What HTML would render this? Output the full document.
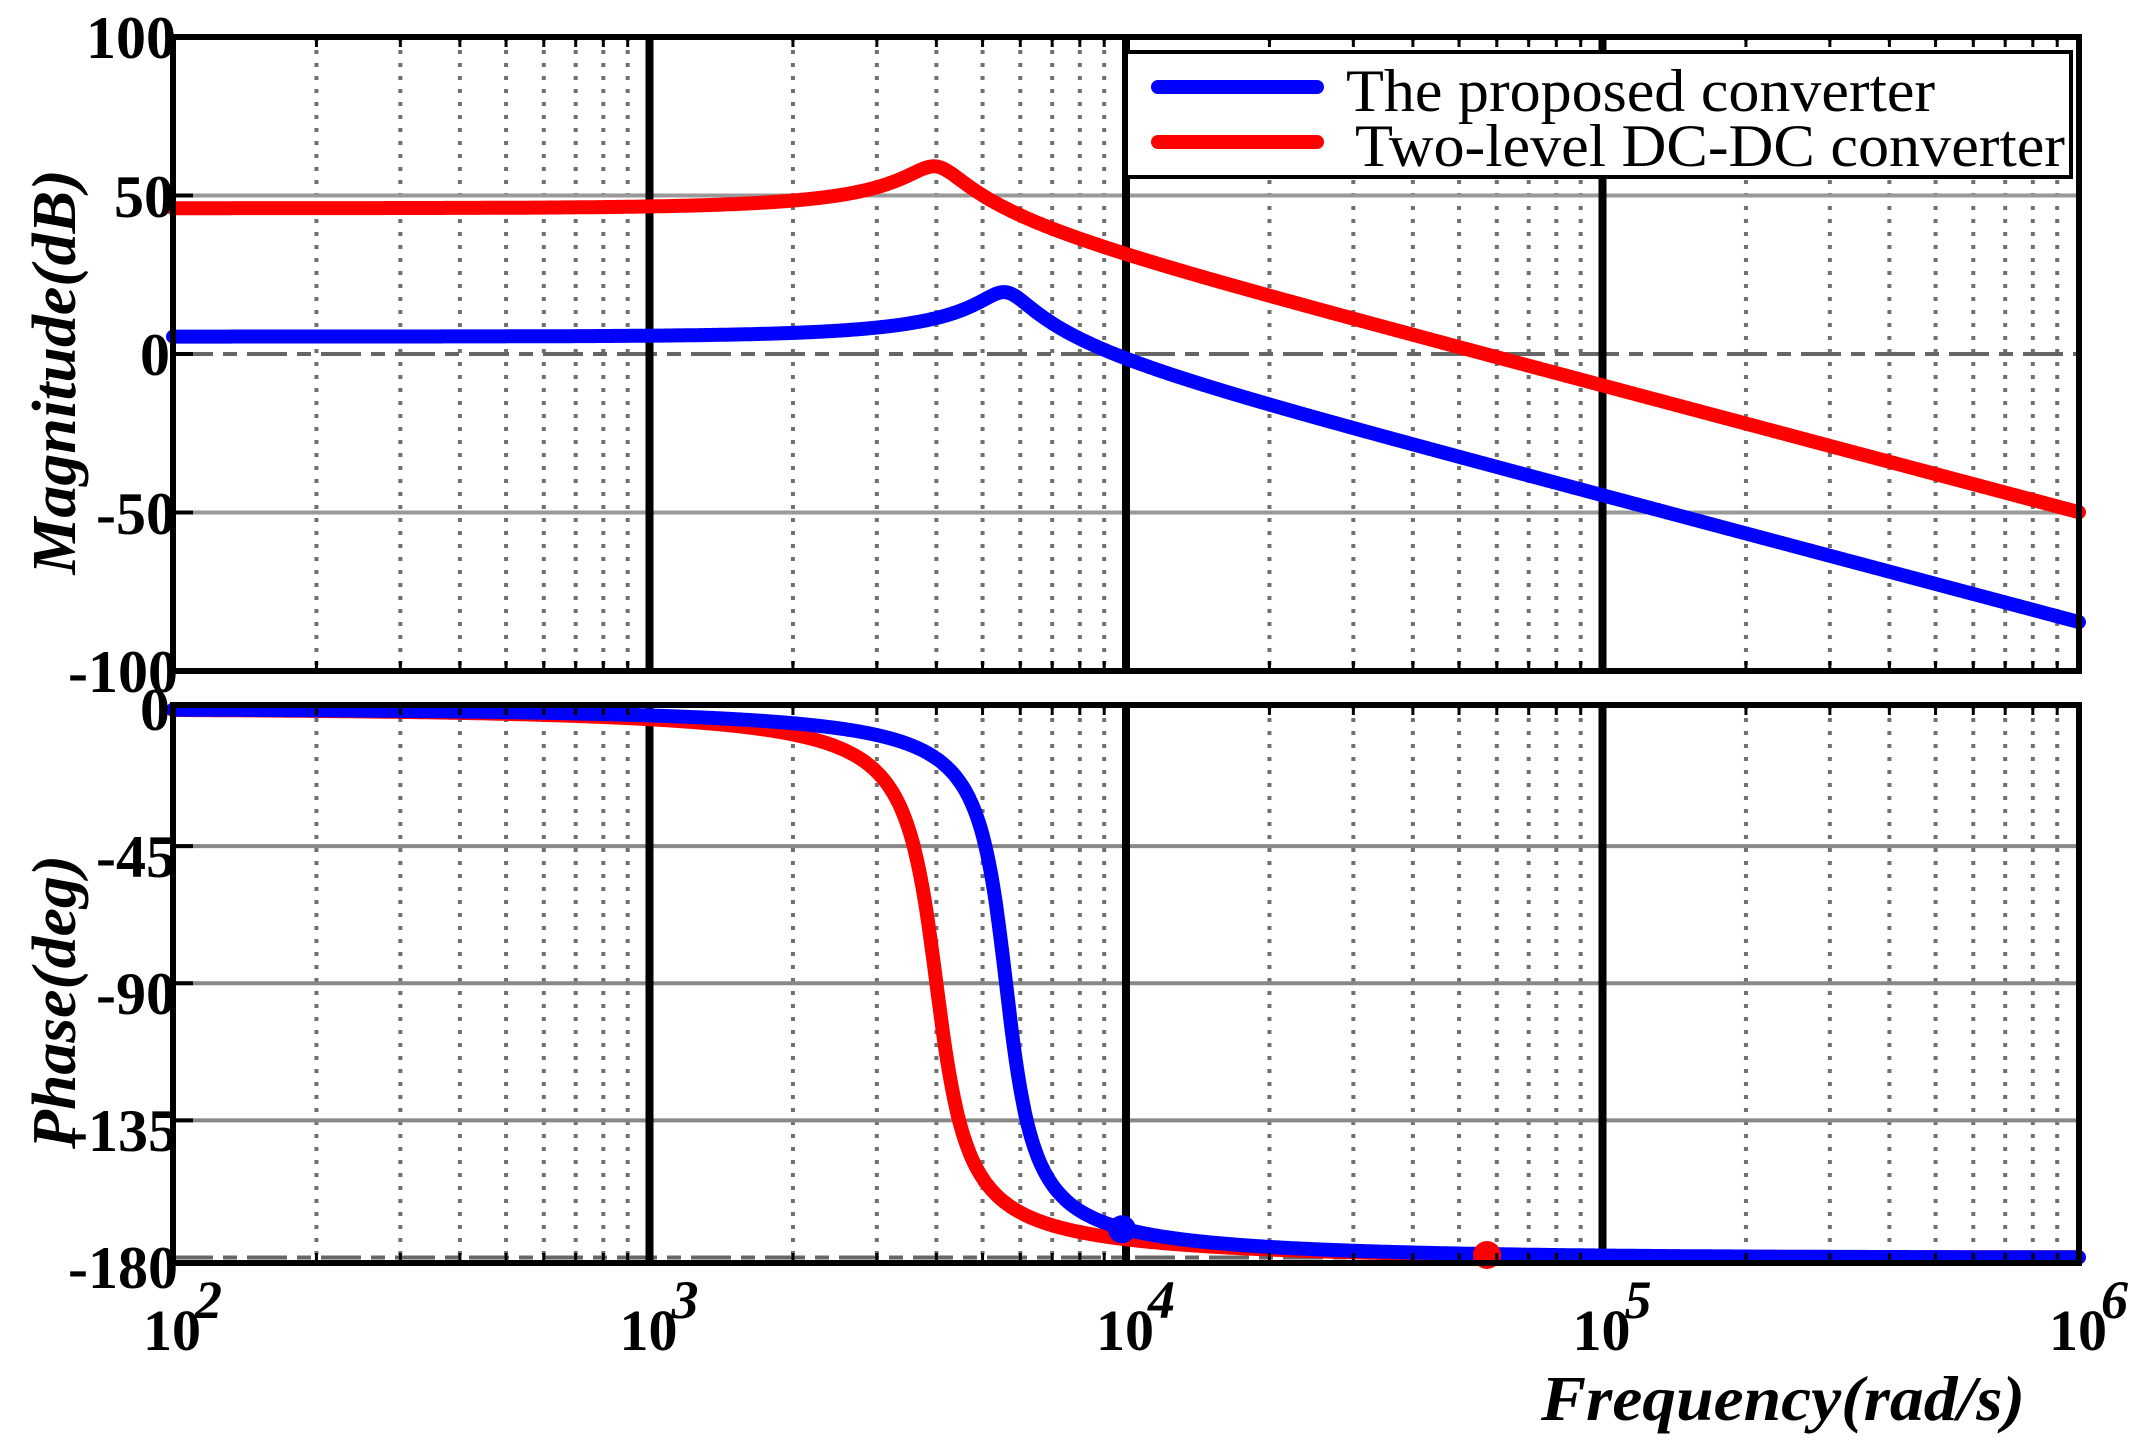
<!DOCTYPE html>
<html><head><meta charset="utf-8"><style>
html,body{margin:0;padding:0;background:#fff;}
svg{display:block;}
text{font-family:"Liberation Serif",serif;font-weight:bold;fill:#000;}
</style></head><body>
<svg id="s" width="2155" height="1449" viewBox="0 0 2155 1449" xmlns="http://www.w3.org/2000/svg">
<g id="grid"></g>
<g id="curves"></g>
<g id="frame"></g>
<rect x="1126" y="52" width="945" height="125" fill="#fff" stroke="#000" stroke-width="4"/>
<line x1="1158" y1="87" x2="1317" y2="87" stroke="#0000ff" stroke-width="14" stroke-linecap="round"/>
<line x1="1158" y1="142" x2="1317" y2="142" stroke="#ff0000" stroke-width="14" stroke-linecap="round"/>
<text x="1346" y="111" font-size="60" style="font-weight:normal" textLength="589" lengthAdjust="spacingAndGlyphs">The proposed converter</text>
<text x="1355" y="166" font-size="60" style="font-weight:normal" textLength="710" lengthAdjust="spacingAndGlyphs">Two-level DC-DC converter</text>
<g font-size="60" text-anchor="end">
<text x="176" y="58">100</text>
<text x="174" y="217">50</text>
<text x="170" y="375">0</text>
<text x="176" y="534">-50</text>
<text x="178" y="692">-100</text>
<text x="170" y="730">0</text>
<text x="176" y="877">-45</text>
<text x="176" y="1014">-90</text>
<text x="178" y="1151">-135</text>
<text x="178" y="1288">-180</text>
</g>
<g id="xl" font-size="58"></g>
<text transform="translate(75,372) rotate(-90)" font-size="62" font-style="italic" text-anchor="middle" textLength="405" lengthAdjust="spacingAndGlyphs">Magnitude(dB)</text>
<text transform="translate(75,1002) rotate(-90)" font-size="62" font-style="italic" text-anchor="middle" textLength="294" lengthAdjust="spacingAndGlyphs">Phase(deg)</text>
<text x="1541" y="1420" font-size="64" font-style="italic" textLength="484" lengthAdjust="spacingAndGlyphs">Frequency(rad/s)</text>
</svg>
<script>
var NS="http://www.w3.org/2000/svg";
function el(p,t,a){var e=document.createElementNS(NS,t);for(var k in a)e.setAttribute(k,a[k]);p.appendChild(e);return e;}
var L=173,D=476.5,R=L+4*D;
function X(w){return L+(Math.log10(w)-2)*D;}
var MT=37,MB=671,PT=705,PB=1263;
function YM(db){return 354-db*3.17;}
function YP(d){return 709-d*(548.5/180);}
var g=document.getElementById('grid'),f=document.getElementById('frame'),c=document.getElementById('curves');
for(var dec=2;dec<6;dec++)for(var m=2;m<10;m++){var x=X(m*Math.pow(10,dec));
 [[MT,MB],[PT,PB]].forEach(function(r){
  el(g,'line',{x1:x,y1:r[0],x2:x,y2:r[1],stroke:'#707070','stroke-width':4,'stroke-dasharray':'4 9'});
  el(f,'line',{x1:x,y1:r[0],x2:x,y2:r[0]+10,stroke:'#000','stroke-width':3});
  el(f,'line',{x1:x,y1:r[1],x2:x,y2:r[1]-10,stroke:'#000','stroke-width':3});
 });}
[50,-50].forEach(function(v){el(g,'line',{x1:L,y1:YM(v),x2:R,y2:YM(v),stroke:'#999','stroke-width':4});});
el(g,'line',{x1:L,y1:YM(0),x2:R,y2:YM(0),stroke:'#666','stroke-width':4,'stroke-dasharray':'40 10 14 10'});
[-45,-90,-135].forEach(function(v){el(g,'line',{x1:L,y1:YP(v),x2:R,y2:YP(v),stroke:'#888','stroke-width':4});});
el(g,'line',{x1:L,y1:YP(-180),x2:R,y2:YP(-180),stroke:'#666','stroke-width':4,'stroke-dasharray':'40 10 14 10'});
for(var k=1;k<4;k++){var x=X(Math.pow(10,2+k));
 el(g,'line',{x1:x,y1:MT,x2:x,y2:MB,stroke:'#000','stroke-width':8});
 el(g,'line',{x1:x,y1:PT,x2:x,y2:PB,stroke:'#000','stroke-width':8});}
el(f,'rect',{x:L,y:MT,width:R-L,height:MB-MT,fill:'none',stroke:'#000','stroke-width':6});
el(f,'rect',{x:L,y:PT,width:R-L,height:PB-PT,fill:'none',stroke:'#000','stroke-width':6});
[50,0,-50].forEach(function(v){el(f,'line',{x1:L,y1:YM(v),x2:L+20,y2:YM(v),stroke:'#000','stroke-width':4});});
[-45,-90,-135].forEach(function(v){el(f,'line',{x1:L,y1:YP(v),x2:L+20,y2:YP(v),stroke:'#000','stroke-width':4});});
function tf(K,wn,z,w){var u=w/wn,re=1-u*u,im=2*z*u;var mag=20*Math.log10(K)-10*Math.log10(re*re+im*im);var ph=-Math.atan2(im,re)*180/Math.PI;return [mag,ph];}
function path(K,wn,z){var dm='',dp='';for(var i=0;i<=1600;i++){var w=Math.pow(10,2+4*i/1600);var r=tf(K,wn,z,w);var x=X(w).toFixed(1);dm+=(i?'L':'M')+x+' '+YM(r[0]).toFixed(1);dp+=(i?'L':'M')+x+' '+YP(r[1]).toFixed(1);}return [dm,dp];}
var red=path(Math.pow(10,46/20),4000,0.11),blue=path(Math.pow(10,5.5/20),5600,0.10);
[[red,'#ff0000'],[blue,'#0000ff']].forEach(function(p){
 el(c,'path',{d:p[0][0],fill:'none',stroke:p[1],'stroke-width':14,'stroke-linecap':'round','stroke-linejoin':'round'});
 el(c,'path',{d:p[0][1],fill:'none',stroke:p[1],'stroke-width':14,'stroke-linecap':'round','stroke-linejoin':'round'});
});
el(c,'circle',{cx:1122,cy:YP(tf(1,5600,0.10,10000)[1]),r:14,fill:'#0000ff'});
el(c,'circle',{cx:1487,cy:1255,r:14,fill:'#ff0000'});
var xl=document.getElementById('xl');
for(var k=0;k<5;k++){var x=L+k*D;
 var t=el(xl,'text',{x:x-30,y:1350});t.textContent='10';
 var s=el(xl,'text',{x:x+22,y:1318,'font-size':54,'font-style':'italic'});s.textContent=String(2+k);}
</script>
</body></html>
